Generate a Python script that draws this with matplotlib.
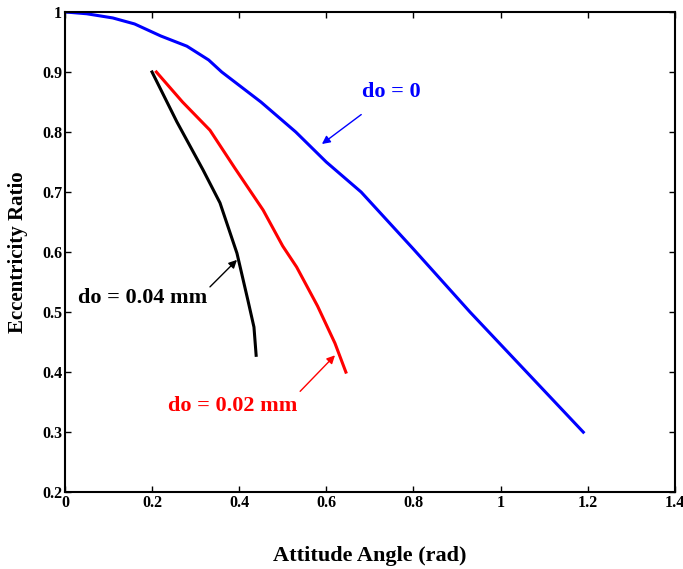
import matplotlib
matplotlib.use("Agg")
import matplotlib.pyplot as plt

plt.rcParams['font.family'] = ['Liberation Serif', 'DejaVu Serif']
plt.rcParams['font.weight'] = 'bold'

# do = 0
x_do0 = [0.0, 0.05, 0.11, 0.16, 0.22, 0.28, 0.33, 0.36, 0.45, 0.53, 0.60, 0.68, 0.80, 0.93, 1.06, 1.19]
y_do0 = [1.0, 0.997, 0.99, 0.98, 0.96, 0.943, 0.92, 0.90, 0.85, 0.80, 0.75, 0.70, 0.605, 0.50, 0.40, 0.30]

# do = 0.02 mm
x_do02 = [0.21, 0.27, 0.333, 0.39, 0.455, 0.50, 0.532, 0.58, 0.62, 0.645]
y_do02 = [0.90, 0.85, 0.803, 0.74, 0.67, 0.61, 0.575, 0.51, 0.448, 0.40]

# do = 0.04 mm
x_do04 = [0.20, 0.257, 0.317, 0.356, 0.395, 0.42, 0.434, 0.439]
y_do04 = [0.90, 0.817, 0.737, 0.682, 0.598, 0.52, 0.475, 0.428]

fig = plt.figure(figsize=(6.83, 5.69), dpi=100)
ax = fig.add_axes([0.095, 0.135, 0.893, 0.844])

ax.plot(x_do0, y_do0, color='#0000ff', lw=2.2)
ax.plot(x_do02, y_do02, color='#ff0000', lw=2.2)
ax.plot(x_do04, y_do04, color='black', lw=2.2)

arrow = dict(arrowstyle='-|>', lw=1, mutation_scale=12, shrinkA=0, shrinkB=0)
ax.annotate('do = 0', xy=(0.59, 0.78), xytext=(0.75, 0.867), color='#0000ff',
            fontsize=16, fontweight='bold', ha='center', va='center',
            arrowprops=dict(arrow, color='#0000ff', shrinkA=12))
ax.annotate('', xy=(0.395, 0.587), xytext=(0.333, 0.542),
            arrowprops=dict(arrow, color='black'))
ax.text(0.179, 0.523, 'do = 0.04 mm', color='black', fontsize=16,
        fontweight='bold', ha='center', va='center')
ax.annotate('', xy=(0.62, 0.428), xytext=(0.54, 0.368),
            arrowprops=dict(arrow, color='#ff0000'))
ax.text(0.386, 0.343, 'do = 0.02 mm', color='#ff0000', fontsize=16,
        fontweight='bold', ha='center', va='center')

ax.set_xlim(0, 1.4)
ax.set_ylim(0.2, 1.0)
ax.set_xticks([0, 0.2, 0.4, 0.6, 0.8, 1.0, 1.2, 1.4])
ax.set_xticklabels(['0', '0.2', '0.4', '0.6', '0.8', '1', '1.2', '1.4'])
ax.set_yticks([0.2, 0.3, 0.4, 0.5, 0.6, 0.7, 0.8, 0.9, 1.0])
ax.set_yticklabels(['0.2', '0.3', '0.4', '0.5', '0.6', '0.7', '0.8', '0.9', '1'])
ax.tick_params(direction='in', top=True, right=True, length=4, width=1,
               labelsize=11.5, pad=2)
for lab in ax.get_xticklabels() + ax.get_yticklabels():
    lab.set_fontweight('bold')
for sp in ax.spines.values():
    sp.set_linewidth(1.5)

ax.set_xlabel('Attitude Angle (rad)', fontsize=16, fontweight='bold', labelpad=25)
ax.set_ylabel('Eccentricity Ratio', fontsize=15, fontweight='bold', labelpad=10)

fig.savefig('out.png', dpi=100)
